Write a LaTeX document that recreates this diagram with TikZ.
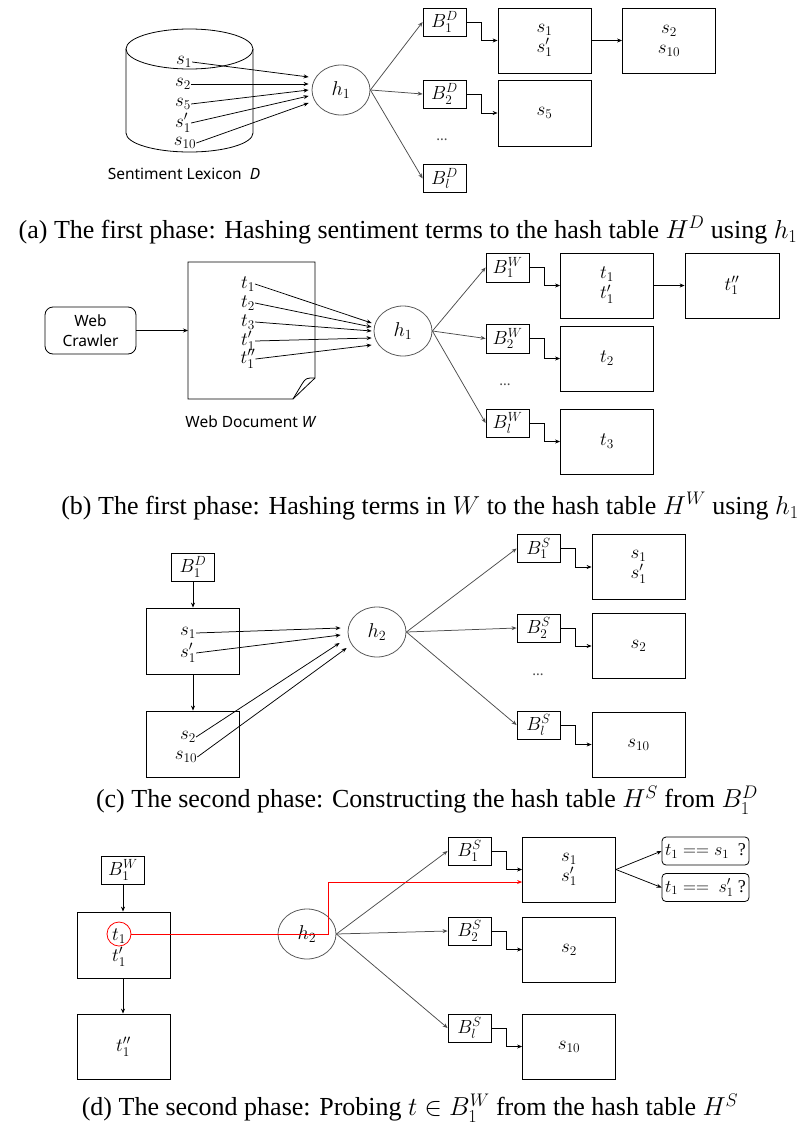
\RequirePackage{fix-cm}
\documentclass[tikz,border=0pt]{standalone}
\usepackage{fontspec}
\setmainfont{Liberation Serif}
\newfontfamily\sansf{Noto Sans}
\usetikzlibrary{arrows.meta,shapes.geometric,calc}
\begin{document}
\begin{tikzpicture}[x=1pt,y=-1pt,
  lab/.style={inner sep=0pt, font=\fontsize{19}{21}\selectfont},
  sb/.style={draw, line width=0.8pt, minimum width=43pt, minimum height=28pt, inner sep=0pt, font=\fontsize{19}{21}\selectfont},
  bb/.style={draw, line width=0.8pt, minimum width=93pt, minimum height=65pt, inner sep=0pt, align=center, font=\fontsize{19}{20}\selectfont},
  hh/.style={draw=black!65, ellipse, minimum width=58pt, minimum height=50pt, inner sep=0pt, line width=0.8pt, font=\fontsize{20}{22}\selectfont},
  arr/.style={-{Stealth[length=5pt,width=4pt]}, line width=0.75pt},
  garr/.style={arr, draw=black!70},
  captxt/.style={font=\fontsize{26}{28}\selectfont, inner sep=0pt},
  sf/.style={font=\sansf\fontsize{15.5}{20}\selectfont},
  ell/.style={font=\sansf\fontsize{14}{14}\selectfont, text=black!70, inner sep=0pt},
  qb/.style={draw, line width=0.8pt, rounded corners=4pt, minimum width=87pt, minimum height=28pt, inner sep=0pt, font=\fontsize{18}{20}\selectfont}
]
\useasboundingbox (0,0) rectangle (808,1129);

% ---------------- (a)
\draw[line width=0.8pt] (189.5,49) ellipse [x radius=63.5pt, y radius=20pt];
\draw[line width=0.8pt] (126,49) -- (126,133) arc[start angle=180,end angle=360,x radius=63.5pt,y radius=19pt] -- (253,49);
\node[lab] (a1) at (184,62) {$s_1$};
\node[lab] (a2) at (183,84) {$s_2$};
\node[lab] (a5) at (183,104) {$s_5$};
\node[lab] (a1p) at (183,123) {$s_1'$};
\node[lab] (a10) at (185,143) {$s_{10}$};
\node[hh] (h1a) at (341,90) {$h_1$};
\draw[arr] (a1.east) -- ([xshift=-3pt,yshift=13pt]h1a.west);
\draw[arr] (a2.east) -- ([xshift=-3pt,yshift=6pt]h1a.west);
\draw[arr] (a5.east) -- ([xshift=-3pt,yshift=0pt]h1a.west);
\draw[arr] (a1p.east) -- ([xshift=-3pt,yshift=-6pt]h1a.west);
\draw[arr] (a10.east) -- ([xshift=-3pt,yshift=-13pt]h1a.west);
\node[sb] (bd1) at (444.5,22) {$B_1^D$};
\node[sb] (bd2) at (444.5,94) {$B_2^D$};
\node[sb] (bdl) at (444.5,178.5) {$B_l^D$};
\node[ell] (dda) at (442,140) {...};
\draw[garr] (h1a.east) -- (bd1.west);
\draw[garr] (h1a.east) -- (bd2.west);
\draw[garr] (h1a.east) -- (bdl.west);
\node[bb] (ca1) at (544.5,40.5) {$s_1$\\$s_1'$};
\node[bb] (ca2) at (669,40.5) {$s_2$\\$s_{10}$};
\node[bb, minimum height=66pt] (ca3) at (544.5,113) {$s_5$};
\draw[arr] (bd1.east) -- ++(15,0) |- (ca1.west);
\draw[arr] (bd2.east) -- ++(15,0) |- (ca3.west);
\draw[arr] (ca1.east) -- (ca2.west);
\node[sf] (lexd) at (184,174) {Sentiment Lexicon\ \ \textbf{\textit{D}}};
\node[captxt] (capa) at (408,230) {(a) The first phase: Hashing sentiment terms to the hash table $H^D$ using $h_1$};

% ---------------- (b)
\node[draw, line width=0.8pt, rounded corners=8pt, minimum width=91pt, minimum height=47pt, align=center, sf] (crawl) at (90.5,330.5) {Web\\Crawler};
\draw[line width=0.8pt] (188,262) -- (315,262) -- (315,378) -- (293,399) -- (188,399) -- cycle;
\draw[line width=0.8pt] (315,378) .. controls (306,378) .. (302,384) -- (293,399);
\coordinate (docl) at (188,330.5);
\draw[arr] (crawl.east) -- (docl);
\node[lab] (b1) at (248,284) {$t_1$};
\node[lab] (b2) at (248,303) {$t_2$};
\node[lab] (b3) at (248,322) {$t_3$};
\node[lab] (b1p) at (248,341) {$t_1'$};
\node[lab] (b1pp) at (248,359) {$t_1''$};
\node[hh] (h1b) at (403,331) {$h_1$};
\draw[arr] (b1.east) -- ([xshift=-2pt,yshift=8pt]h1b.west);
\draw[arr] (b2.east) -- ([xshift=-2pt,yshift=4pt]h1b.west);
\draw[arr] (b3.east) -- ([xshift=-2pt,yshift=0pt]h1b.west);
\draw[arr] (b1p.east) -- ([xshift=-2pt,yshift=-7pt]h1b.west);
\draw[arr] (b1pp.east) -- ([xshift=-2pt,yshift=-14pt]h1b.west);
\node[sb, minimum height=29pt] (bw1) at (507.5,267.5) {$B_1^W$};
\node[sb, minimum height=29pt] (bw2) at (507.5,338.5) {$B_2^W$};
\node[sb] (bwl) at (507.5,423) {$B_l^W$};
\node[ell] (ddb) at (505,385) {...};
\draw[garr] (h1b.east) -- (bw1.west);
\draw[garr] (h1b.east) -- (bw2.west);
\draw[garr] (h1b.east) -- (bwl.west);
\node[bb] (cb1) at (607,285.5) {$t_1$\\$t_1'$};
\node[bb, minimum width=94pt] (cb2) at (732,285.5) {$t_1''$};
\node[bb] (cb3) at (607,358.5) {$t_2$};
\node[bb] (cb4) at (607,441.5) {$t_3$};
\draw[arr] (bw1.east) -- ++(15,0) |- (cb1.west);
\draw[arr] (bw2.east) -- ++(15,0) |- (cb3.west);
\draw[arr] (bwl.east) -- ++(15,0) |- (cb4.west);
\draw[arr] (cb1.east) -- (cb2.west);
\node[sf] (wdoc) at (251,422) {Web Document \textbf{\textit{W}}};
\node[captxt] (capb) at (430,506) {(b) The first phase: Hashing terms in $W$ to the hash table $H^W$ using $h_1$};

% ---------------- (c)
\node[sb] (cbd) at (193,567) {$B_1^D$};
\node[bb, minimum height=66pt] (cx1) at (192.5,641) {};
\node[bb, minimum height=66pt] (cx2) at (192.5,744) {};
\draw[arr] (cbd.south) -- (cbd.south |- cx1.north);
\draw[arr] (cbd.south |- cx1.south) -- (cbd.south |- cx2.north);
\node[lab] (c1) at (188,633) {$s_1$};
\node[lab] (c1p) at (188,653) {$s_1'$};
\node[lab] (c2) at (188,737) {$s_2$};
\node[lab] (c10) at (186,757) {$s_{10}$};
\node[hh] (h2c) at (377,632) {$h_2$};
\draw[arr] (c1.east) -- ([xshift=-7pt,yshift=4pt]h2c.west);
\draw[arr] (c1p.east) -- ([xshift=-7pt,yshift=-3pt]h2c.west);
\draw[arr] (c2.east) -- ([xshift=-8pt,yshift=-11pt]h2c.west);
\draw[arr] (c10.east) -- ([xshift=-1pt,yshift=-16pt]h2c.west);
\node[sb] (bs1) at (538.5,548.5) {$B_1^S$};
\node[sb] (bs2) at (538.5,628) {$B_2^S$};
\node[sb] (bsl) at (538.5,725) {$B_l^S$};
\node[ell] (ddc) at (538,675) {...};
\draw[garr] (h2c.east) -- (bs1.west);
\draw[garr] (h2c.east) -- (bs2.west);
\draw[garr] (h2c.east) -- (bsl.west);
\node[bb] (cc1) at (638.5,567) {$s_1$\\$s_1'$};
\node[bb] (cc2) at (638.5,646) {$s_2$};
\node[bb] (cc3) at (638.5,744.5) {$s_{10}$};
\draw[arr] (bs1.east) -- ++(15,0) |- (cc1.west);
\draw[arr] (bs2.east) -- ++(15,0) |- (cc2.west);
\draw[arr] (bsl.east) -- ++(15,0) |- (cc3.west);
\node[captxt] (capc) at (427,800) {(c) The second phase: Constructing the hash table $H^S$ from $B_1^D$};

% ---------------- (d)
\node[sb] (dbw) at (123,870) {$B_1^W$};
\node[bb, minimum height=66pt] (dx1) at (123.5,945) {};
\node[bb] (dx2) at (123.5,1046.5) {$t_1''$};
\draw[arr] (dbw.south) -- (dbw.south |- dx1.north);
\draw[arr] (dbw.south |- dx1.south) -- (dbw.south |- dx2.north);
\node[lab] (d1) at (119,936) {$t_1$};
\node[lab] (d1p) at (119,957) {$t_1'$};
\node[draw=red, circle, minimum size=24pt, inner sep=0pt, line width=0.8pt] (rc1) at (119,934) {};
\node[hh] (h2d) at (307,934) {$h_2$};
\node[sb] (ds1) at (469.5,851) {$B_1^S$};
\node[sb] (ds2) at (469.5,931) {$B_2^S$};
\node[sb] (dsl) at (469.5,1028) {$B_l^S$};
\draw[garr] (h2d.east) -- (ds1.west);
\draw[garr] (h2d.east) -- (ds2.west);
\draw[garr] (h2d.east) -- (dsl.west);
\node[bb] (dd1) at (569,869.5) {$s_1$\\$s_1'$};
\node[bb] (dd2) at (569,949.5) {$s_2$};
\node[bb] (dd3) at (569,1046.5) {$s_{10}$};
\draw[arr] (ds1.east) -- ++(15,0) |- (dd1.west);
\draw[arr] (ds2.east) -- ++(15,0) |- (dd2.west);
\draw[arr] (dsl.east) -- ++(15,0) |- (dd3.west);
\coordinate (rk) at (328,882);
\draw[arr, red] (rc1.east) -| (rk) -- (rk -| dd1.west);
\node[qb] (q1) at (705.5,851) {$t_1 == s_1$\ \ ?};
\node[qb] (q2) at (705.5,887.5) {$t_1 ==\ s_1'$ ?};
\draw[arr] (dd1.east) -- (q1.west);
\draw[arr] (dd1.east) -- (q2.west);
\node[captxt] (capd) at (410,1108) {(d) The second phase: Probing $t\in B_1^W$ from the hash table $H^S$};
\end{tikzpicture}
\end{document}
